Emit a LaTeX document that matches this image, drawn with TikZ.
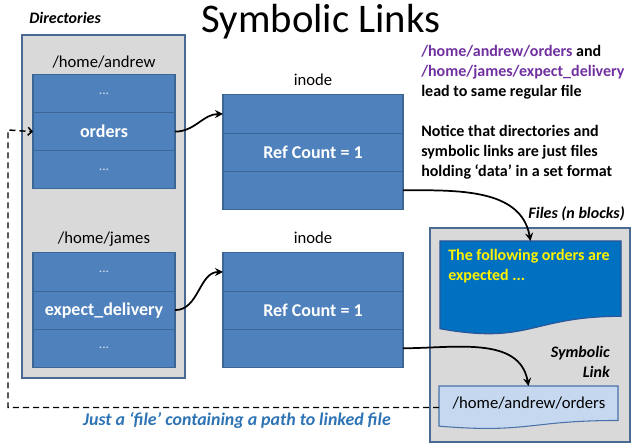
\documentclass[tikz,border=0pt]{standalone}
\usepackage{fontspec}
\setmainfont{Carlito}
\usepackage{xcolor}
\usepackage{tikz}
\usetikzlibrary{arrows.meta,positioning,calc}
\definecolor{cellblue}{HTML}{4F81BD}
\definecolor{celledge}{HTML}{3C6696}
\definecolor{framegray}{HTML}{D9D9D9}
\definecolor{frameedge}{HTML}{4A6A94}
\definecolor{docblue}{HTML}{0070C0}
\definecolor{docedge}{HTML}{2F5597}
\definecolor{linkfill}{HTML}{C5D8F0}
\definecolor{linkedge}{HTML}{4A72A8}
\definecolor{notepurple}{HTML}{7030A0}
\definecolor{capblue}{HTML}{2E74B5}
\newcommand\docoutline[2]{\draw[#2] (#1.north west) -- (#1.north east)
  -- ($(#1.north east)!0.802!(#1.south east)$)
  .. controls ($(#1.north)!0.802!(#1.south)$) and ($(#1.north)!1.107!(#1.south)$)
  .. ($(#1.north west)!0.934!(#1.south west)$) -- cycle;}

\begin{document}
\begin{tikzpicture}[x=0.75pt, y=0.75pt,
  cell/.style={draw=celledge, fill=cellblue, line width=0.8pt, text=white, font=\bfseries\fontsize{13.5}{16}\selectfont,
               minimum width=106.5pt, minimum height=28.6pt, inner sep=0pt, outer sep=0pt},
  dots/.style={cell, font=\fontsize{10}{12}\selectfont, text=white!80!cellblue},
  icell/.style={cell, minimum width=135pt},
  lbl/.style={font=\fontsize{12.5}{15}\selectfont, inner sep=1pt},
  hdr/.style={font=\bfseries\itshape\fontsize{12}{15}\selectfont, inner sep=0pt},
  note/.style={font=\bfseries\fontsize{12}{15}\selectfont, align=left, inner sep=0pt},
  dirframe/.style={draw=frameedge, fill=framegray, line width=1.4pt},
  filebox/.style={inner sep=0pt, outer sep=0pt, anchor=north west},
  arr/.style={-{Stealth[length=6pt,width=6pt]}, line width=1.3pt},
  dasharr/.style={-{Straight Barb[length=3pt,width=6pt]}, line width=1.1pt, dash pattern=on 4.5pt off 3pt}]
  \useasboundingbox (0,0) rectangle (636,448);
  \node[font=\fontsize{30.5}{34}\selectfont, anchor=base] (title) at (321,415) {Symbolic Links};

  \node[hdr, anchor=base west] (dirhdr) at (29,424.5) {Directories};
  \draw[dirframe] (22,413) rectangle (185,70);
  \node[dots] (andrew1) at (104,354.5) {...};
  \node[cell, below=0pt of andrew1] (andrew2) {orders};
  \node[dots, below=0pt of andrew2] (andrew3) {...};
  \node[lbl, above=3.5pt of andrew1] (andrewlbl) {/home/andrew};
  \node[dots] (james1) at (104,176) {...};
  \node[cell, below=0pt of james1] (james2) {expect\_delivery};
  \node[dots, below=0pt of james2] (james3) {...};
  \node[lbl, above=3.5pt of james1] (jameslbl) {/home/james};

  \node[icell] (inodeA1) at (313,334) {};
  \node[icell, below=0pt of inodeA1] (inodeA2) {Ref Count = 1};
  \node[icell, below=0pt of inodeA2] (inodeA3) {};
  \node[lbl, above=6pt of inodeA1] (inodeAlbl) {inode};
  \node[icell] (inodeB1) at (313,176) {};
  \node[icell, below=0pt of inodeB1] (inodeB2) {Ref Count = 1};
  \node[icell, below=0pt of inodeB2] (inodeB3) {};
  \node[lbl, above=6pt of inodeB1] (inodeBlbl) {inode};

  \node[note, anchor=base west] (samefile) at (421,351)
    {\textcolor{notepurple}{/home/andrew/orders} and\\\textcolor{notepurple}{/home/james/expect\_delivery}\\lead to same regular file};
  \node[note, anchor=base west] (dirsnote) at (421,271)
    {Notice that directories and\\symbolic links are just files\\holding ‘data’ in a set format};

  \draw[dirframe] (430,220) rectangle (630,6);
  \node[hdr, anchor=base east] (fileshdr) at (625,229) {Files (n blocks)};
  \node[filebox, minimum width=135.75pt, minimum height=70.5pt] (expfile) at (440,207) {};
  \docoutline{expfile}{fill=docblue, draw=docedge, line width=0.8pt}
  \node[note, text=yellow, anchor=base west] (exptext) at (448,167) {The following orders are\\expected ...};
  \node[hdr, align=right, anchor=base east] (linkhdr) at (610,70) {Symbolic\\Link};
  \node[filebox, minimum width=134.25pt, minimum height=32.25pt] (linkfile) at (439,62) {};
  \docoutline{linkfile}{fill=linkfill, draw=linkedge, line width=0.8pt}
  \node[lbl, anchor=base] (linktext) at (529,39) {/home/andrew/orders};

  \node[hdr, font=\bfseries\itshape\fontsize{13.4}{16}\selectfont, text=capblue, anchor=base] (pathnote) at (237,22)
    {Just a ‘file’ containing a path to linked file};

  \coordinate (dashturn) at (8,318);
  \draw[arr] (andrew2.east) to[out=0,in=180] (inodeA1.west);
  \draw[arr] (james2.east) to[out=0,in=180] (inodeB1.west);
  \draw[arr] (inodeA3.east) to[out=0,in=100] (expfile.north);
  \draw[arr] (inodeB3.east) to[out=0,in=100] (linkfile.north);
  \draw[dasharr] (linkfile.west) -| (dashturn) -- (andrew2.west);
\end{tikzpicture}
\end{document}
